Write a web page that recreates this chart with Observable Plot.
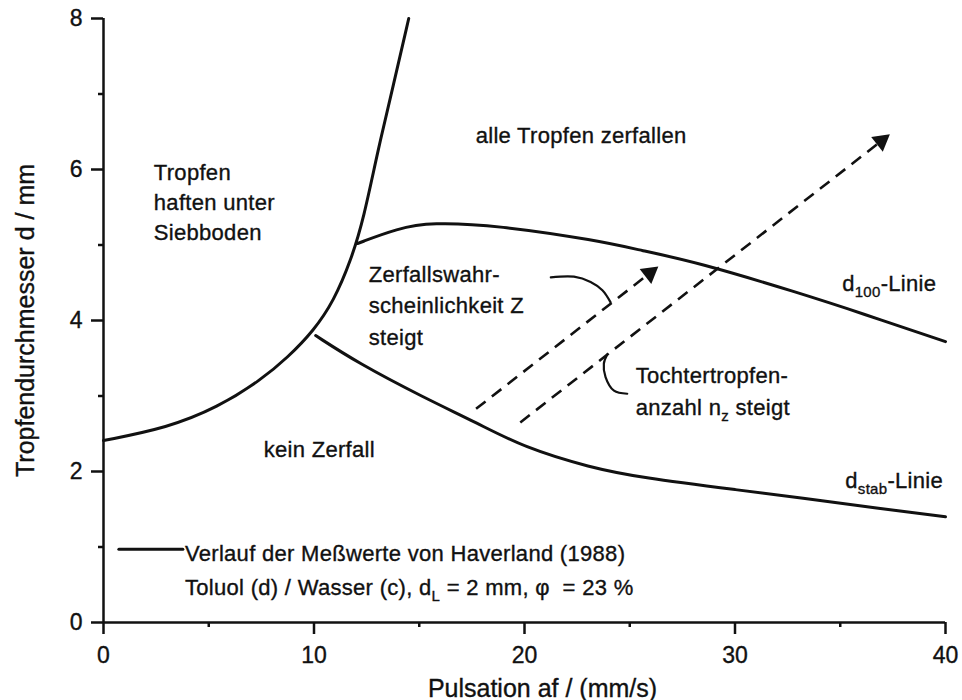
<!DOCTYPE html>
<html>
<head>
<meta charset="utf-8">
<script src="https://cdn.jsdelivr.net/npm/d3@7"></script>
<script src="https://cdn.jsdelivr.net/npm/@observablehq/plot@0.6"></script>
<style>
  body { margin: 0; background: #fff; }
  #chart svg { display: block; }
  #chart svg text { stroke: #111; stroke-width: 0.35px; }
  #chart svg g.note text { letter-spacing: 0.3px; }
</style>
</head>
<body>
<div id="chart"></div>
<script>
// ---- Data ----
// Boundary "Tropfen haften unter Siebboden"
const boundaryX = [0, 3.05, 5.43, 7.47, 8.75, 10.0, 10.94, 11.75, 12.37, 13.03, 13.79, 14.5];
const boundaryY = [2.41, 2.58, 2.85, 3.21, 3.51, 3.87, 4.26, 4.79, 5.36, 6.25, 7.14, 8.0];
// d100 line
const d100X = [12.07, 13.98, 15.55, 18.73, 23.47, 25.52, 28.23, 33.1, 35.97, 40.0];
const d100Y = [5.02, 5.22, 5.30, 5.26, 5.06, 4.93, 4.77, 4.36, 4.10, 3.72];
// d_stab line
const dstabX = [10.08, 12.07, 15.21, 17.77, 19.96, 23.15, 25.5, 30.3, 33.4, 36.6, 40.0];
const dstabY = [3.80, 3.44, 2.98, 2.64, 2.32, 2.05, 1.92, 1.75, 1.64, 1.52, 1.40];
// dashed arrows (start, tip)
const arrowX1 = [17.7, 19.8];
const arrowY1 = [2.83, 2.65];
const arrowX2 = [26.1, 37.1];
const arrowY2 = [4.66, 6.41];
// curved pointers
const pointer1X = [21.25, 22.35, 23.14, 23.70, 24.09];
const pointer1Y = [4.57, 4.58, 4.51, 4.40, 4.24];
const pointer2X = [23.93, 23.77, 23.85, 24.25, 24.88];
const pointer2Y = [3.55, 3.43, 3.25, 3.07, 3.03];
// legend sample line
const legendLineX = [0.73, 3.77];
const legendLineY = [0.97, 0.97];
// annotations
const noteText = [
  "Tropfen\nhaften unter\nSiebboden",
  "alle Tropfen zerfallen",
  "Zerfallswahr-\nscheinlichkeit Z\nsteigt",
  "Tochtertropfen-\nanzahl n_{z} steigt",
  "d_{100}-Linie",
  "d_{stab}-Linie",
  "kein Zerfall",
  "Verlauf der Meßwerte von Haverland (1988)\nToluol (d) / Wasser (c), d_{L} = 2 mm, φ\u00a0 = 23 %"
];
const noteX = [2.39, 17.68, 12.6, 25.28, 35.09, 35.24, 7.61, 3.87];
const noteY = [5.59, 6.45, 4.23, 3.09, 4.49, 1.88, 2.28, 0.74];
// axes
const xTicks = [0, 10, 20, 30, 40];
const xMinorTicks = [5, 15, 25, 35];
const yTicks = [0, 2, 4, 6, 8];
const yMinorTicks = [1, 3, 5, 7];
const xLabel = "Pulsation af / (mm/s)";
const yLabel = "Tropfendurchmesser d / mm";

// ---- Layout / style ----
const W = 962, H = 700;
const M = {top: 18, right: 17, bottom: 78, left: 103};
const ink = "#111";
const lineHeights = [1.36, 1, 1.43, 1.45, 1, 1, 1, 1.55];

const pairs = (xs, ys) => xs.map((x, i) => [x, ys[i]]);
const arrows = arrowX1.map((_, i) => ({x1: arrowX1[i], y1: arrowY1[i], x2: arrowX2[i], y2: arrowY2[i]}));
// pixel per unit to orient arrowheads
const kx = (W - M.left - M.right) / 40;
const ky = (H - M.top - M.bottom) / 8;
arrows.forEach(a => {
  const px = (a.x2 - a.x1) * kx, py = (a.y2 - a.y1) * ky;
  const len = Math.hypot(px, py);
  a.angle = Math.atan2(px, py) * 180 / Math.PI;
  a.ux = px / len; a.uy = -py / len;
});

const plot = Plot.plot({
  width: W,
  height: H,
  marginTop: M.top,
  marginRight: M.right,
  marginBottom: M.bottom,
  marginLeft: M.left,
  style: {fontFamily: "'Liberation Sans', Arial, Helvetica, sans-serif", fontSize: "22px", color: ink, background: "#fff"},
  x: {domain: [0, 40]},
  y: {domain: [0, 8]},
  marks: [
    // axes: major and minor ticks, outward
    Plot.axisX({ticks: xTicks, tickSize: 12, tickPadding: 12, fontSize: 23, strokeWidth: 2.5, label: null}),
    Plot.axisX({ticks: xMinorTicks, tickSize: 5, strokeWidth: 2.5, tickFormat: () => "", label: null}),
    Plot.axisY({ticks: yTicks, tickSize: 12, tickPadding: 9, fontSize: 23, strokeWidth: 2.5, label: null}),
    Plot.axisY({ticks: yMinorTicks, tickSize: 5, strokeWidth: 2.5, tickFormat: () => "", label: null}),
    Plot.ruleY([0], {stroke: ink, strokeWidth: 2.5}),
    Plot.ruleX([0], {stroke: ink, strokeWidth: 2.5}),
    // axis titles
    Plot.text([xLabel], {frameAnchor: "bottom", text: d => d, dy: 66, dx: 18, lineAnchor: "middle", fontSize: 25, fill: ink}),
    Plot.text([yLabel], {frameAnchor: "left", text: d => d, dx: -78, rotate: -90, lineAnchor: "middle", textAnchor: "middle", fontSize: 25, fill: ink}),
    // curves
    Plot.line(pairs(boundaryX, boundaryY), {stroke: ink, strokeWidth: 3, curve: "basis"}),
    Plot.line(pairs(d100X, d100Y), {stroke: ink, strokeWidth: 3, curve: "basis"}),
    Plot.line(pairs(dstabX, dstabY), {stroke: ink, strokeWidth: 3, curve: "basis"}),
    // pointers
    Plot.line(pairs(pointer1X, pointer1Y), {stroke: ink, strokeWidth: 2.2, curve: "catmull-rom"}),
    Plot.line(pairs(pointer2X, pointer2Y), {stroke: ink, strokeWidth: 2.2, curve: "catmull-rom"}),
    // dashed arrows
    Plot.link(arrows, {x1: "x1", y1: "y1", x2: "x2", y2: "y2", stroke: ink, strokeWidth: 2.6, strokeDasharray: "12 8"}),
    ...arrows.map(a => Plot.dot([a], {x: "x2", y: "y2", symbol: "triangle", r: 7, fill: ink, stroke: null,
      rotate: a.angle, dx: -a.ux * 4, dy: -a.uy * 4})),
    // legend sample line
    Plot.line(pairs(legendLineX, legendLineY), {stroke: ink, strokeWidth: 3}),
    // annotations
    ...noteText.map((t, i) => Plot.text([t], {
      x: () => noteX[i], y: () => noteY[i], text: d => d,
      textAnchor: "start", lineAnchor: "middle", lineHeight: lineHeights[i],
      fontSize: 22, fill: ink, className: "note"
    }))
  ]
});

// turn "_{...}" into real subscript tspans
function applySubscripts(svg) {
  const NS = "http://www.w3.org/2000/svg";
  const walker = document.createTreeWalker(svg, NodeFilter.SHOW_TEXT);
  const nodes = [];
  while (walker.nextNode()) if (walker.currentNode.nodeValue.includes("_{")) nodes.push(walker.currentNode);
  for (const node of nodes) {
    const parts = node.nodeValue.split(/(_\{[^}]*\})/).filter(p => p.length);
    const frag = document.createDocumentFragment();
    let shifted = false;
    for (const p of parts) {
      const m = p.match(/^_\{(.*)\}$/);
      if (m) {
        const t = document.createElementNS(NS, "tspan");
        t.setAttribute("dy", "6");
        t.setAttribute("font-size", "15");
        t.textContent = m[1];
        frag.appendChild(t);
        shifted = true;
      } else if (shifted) {
        const t = document.createElementNS(NS, "tspan");
        t.setAttribute("dy", "-6");
        t.textContent = p;
        frag.appendChild(t);
        shifted = false;
      } else {
        frag.appendChild(document.createTextNode(p));
      }
    }
    node.parentNode.replaceChild(frag, node);
  }
}
applySubscripts(plot);
plot.querySelectorAll("g[aria-label='text']").forEach(g => {
  if (g.getAttribute("class") && g.getAttribute("class").includes("note")) g.classList.add("note");
});
document.getElementById("chart").appendChild(plot);
</script>
</body>
</html>
